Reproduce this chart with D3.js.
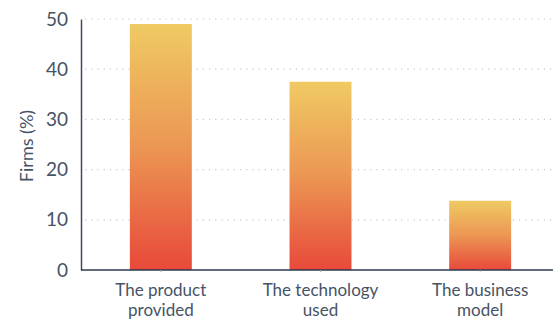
<!DOCTYPE html>
<html><head><meta charset="utf-8">
<script src="https://cdn.jsdelivr.net/npm/d3@7"></script>
<style>body{margin:0;background:#fff}svg{display:block}</style>
</head><body>
<svg id="c" width="553" height="324"></svg>
<script>
const categories = [["The product","provided"],["The technology","used"],["The business","model"]];
const values = [49.0, 37.5, 13.8];
const yTicks = [0,10,20,30,40,50];

const W=553,H=324, m={l:81,r:0,t:19,b:54};
const svg=d3.select("#c");
const font="Lato, 'Open Sans', sans-serif";
const txt="#465366";

const x=d3.scaleBand().domain(d3.range(categories.length)).range([m.l,560]).paddingInner(0.612).paddingOuter(0.306);
const y=d3.scaleLinear().domain([0,50]).range([H-m.b,m.t]);

const defs=svg.append("defs");
const g=defs.append("linearGradient").attr("id","gr").attr("x1",0).attr("y1",0).attr("x2",0).attr("y2",1);
g.append("stop").attr("offset","0%").attr("stop-color","#efca63");
g.append("stop").attr("offset","50%").attr("stop-color","#ec9653");
g.append("stop").attr("offset","100%").attr("stop-color","#e8493a");

// grid
svg.append("g").selectAll("line").data(yTicks.filter(d=>d>0)).join("line")
  .attr("x1",m.l+4).attr("x2",W).attr("y1",d=>y(d)).attr("y2",d=>y(d))
  .attr("stroke","#c8c8c8").attr("stroke-width",1.2).attr("stroke-dasharray","1.2,5");

// bars
svg.append("g").selectAll("rect").data(values).join("rect")
  .attr("x",(d,i)=>x(i)).attr("width",x.bandwidth())
  .attr("y",d=>y(d)).attr("height",d=>y(0)-y(d)).attr("fill","url(#gr)");

// y axis
const ya=svg.append("g").attr("transform",`translate(${m.l},0)`)
  .call(d3.axisLeft(y).tickValues(yTicks).tickSize(0).tickPadding(13));
ya.select(".domain").attr("stroke","#3c4a5a").attr("stroke-width",1.5);
ya.selectAll("text").attr("font-family",font).attr("font-size",19).attr("fill",txt);

// x axis
const xa=svg.append("g").attr("transform",`translate(0,${y(0)})`)
  .call(d3.axisBottom(x).tickSize(2).tickFormat(""));
xa.select(".domain").attr("d",`M${m.l},0H${W}`).attr("stroke","#2c3a4c").attr("stroke-width",1.5);
xa.selectAll(".tick line").attr("stroke","#aaa");
xa.selectAll(".tick").each(function(d){
  const t=d3.select(this).append("text").attr("text-anchor","middle")
    .attr("font-family",font).attr("font-size",17).attr("fill",txt);
  categories[d].forEach((s,k)=>t.append("tspan").attr("x",0).attr("y",26+k*19.5).text(s));
});

// y title
svg.append("text").attr("transform","translate(33,146) rotate(-90)").attr("text-anchor","middle")
  .attr("font-family",font).attr("font-size",18).attr("fill",txt).text("Firms (%)");
</script>
</body></html>
